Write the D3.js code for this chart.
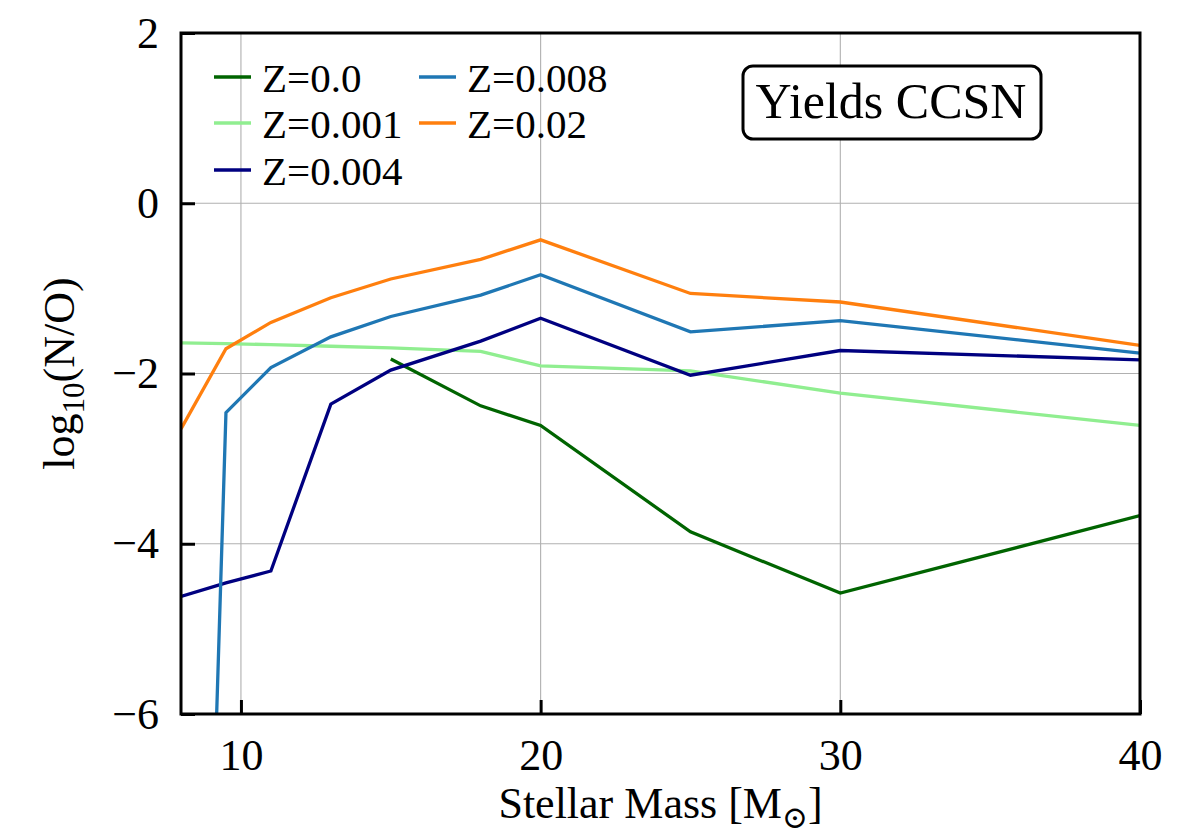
<!DOCTYPE html>
<html>
<head>
<meta charset="utf-8">
<script src="https://cdn.jsdelivr.net/npm/d3@7"></script>
<style>
  html, body { margin: 0; padding: 0; background: #fff; }
  svg text { font-family: "Liberation Serif", "DejaVu Serif", serif; fill: #000; }
</style>
</head>
<body>
<div id="chart"></div>
<script>
// N/O yields of core-collapse supernovae vs stellar mass, one series per metallicity
const masses = [8, 9.5, 11, 13, 15, 18, 20, 25, 30, 40];
const massesZ0 = [15, 18, 20, 25, 30, 40];

const seriesNames = ['Z=0.0', 'Z=0.001', 'Z=0.004', 'Z=0.008', 'Z=0.02'];
const seriesColors = ['#006400', '#90ee90', '#000080', '#1f77b4', '#ff7f0e'];

const logNO_Z0 = [-1.83, -2.38, -2.61, -3.86, -4.58, -3.67];
const logNO_Z001 = [-1.64, -1.65, -1.66, -1.68, -1.70, -1.74, -1.91, -1.97, -2.23, -2.61];
const logNO_Z004 = [-4.62, -4.46, -4.32, -2.36, -1.96, -1.62, -1.35, -2.02, -1.73, -1.84];
const logNO_Z008 = [-19.6, -2.46, -1.93, -1.57, -1.33, -1.08, -0.84, -1.51, -1.38, -1.76];
const logNO_Z02 = [-2.65, -1.71, -1.40, -1.11, -0.89, -0.66, -0.43, -1.06, -1.16, -1.67];

const xTicks = [10, 20, 30, 40];
const yTicks = [-6, -4, -2, 0, 2];

(function () {
  'use strict';

  const W = 1200, H = 840;
  const box = { left: 181, right: 1140, top: 33, bottom: 714 };

  const svg = d3.select('#chart').append('svg')
    .attr('width', W)
    .attr('height', H);

  const x = d3.scaleLinear().domain([8, 40]).range([box.left, box.right]);
  const y = d3.scaleLinear().domain([-6, 2]).range([box.bottom, box.top]);

  // clip so the steep Z=0.008 drop ends at the frame
  svg.append('defs').append('clipPath').attr('id', 'plot-clip')
    .append('rect')
    .attr('x', box.left).attr('y', box.top)
    .attr('width', box.right - box.left).attr('height', box.bottom - box.top);

  // grid
  const grid = svg.append('g').attr('class', 'grid');
  grid.selectAll('line.gx').data(xTicks).join('line')
    .attr('class', 'gx')
    .attr('x1', d => x(d)).attr('x2', d => x(d))
    .attr('y1', box.top).attr('y2', box.bottom)
    .attr('stroke', '#b0b0b0').attr('stroke-width', 1.1);
  grid.selectAll('line.gy').data(yTicks).join('line')
    .attr('class', 'gy')
    .attr('x1', box.left).attr('x2', box.right)
    .attr('y1', d => y(d)).attr('y2', d => y(d))
    .attr('stroke', '#b0b0b0').attr('stroke-width', 1.1);

  // series
  const series = [
    { xs: massesZ0, ys: logNO_Z0 },
    { xs: masses, ys: logNO_Z001 },
    { xs: masses, ys: logNO_Z004 },
    { xs: masses, ys: logNO_Z008 },
    { xs: masses, ys: logNO_Z02 }
  ].map((s, i) => ({
    name: seriesNames[i],
    color: seriesColors[i],
    points: s.xs.map((m, j) => [m, s.ys[j]])
  }));

  const line = d3.line().x(d => x(d[0])).y(d => y(d[1]));

  svg.append('g').attr('clip-path', 'url(#plot-clip)')
    .selectAll('path.series').data(series).join('path')
    .attr('class', 'series')
    .attr('d', d => line(d.points))
    .attr('fill', 'none')
    .attr('stroke', d => d.color)
    .attr('stroke-width', 3.3)
    .attr('stroke-linejoin', 'miter');

  // axes (ticks pointing inward)
  const tickFont = 44;
  const xAxis = svg.append('g')
    .attr('transform', `translate(0,${box.bottom})`)
    .call(d3.axisBottom(x).tickValues(xTicks).tickSizeInner(-14).tickSizeOuter(0).tickPadding(22));
  const yAxis = svg.append('g')
    .attr('transform', `translate(${box.left},0)`)
    .call(d3.axisLeft(y).tickValues(yTicks).tickSizeInner(-14).tickSizeOuter(0).tickPadding(22)
      .tickFormat(d => d < 0 ? '\u2212' + Math.abs(d) : String(d)));

  [xAxis, yAxis].forEach(a => {
    a.select('.domain').remove();
    a.selectAll('.tick line').attr('stroke', '#000').attr('stroke-width', 3);
    a.selectAll('.tick text')
      .style('font-family', '"Liberation Serif", serif')
      .style('font-size', tickFont + 'px')
      .attr('fill', '#000');
  });
  xAxis.selectAll('.tick text').attr('dy', '0.95em').attr('y', 14);

  // frame
  svg.append('rect')
    .attr('x', box.left).attr('y', box.top)
    .attr('width', box.right - box.left).attr('height', box.bottom - box.top)
    .attr('fill', 'none').attr('stroke', '#000').attr('stroke-width', 3);

  // axis labels
  const xl = svg.append('text')
    .attr('x', (box.left + box.right) / 2)
    .attr('y', 818)
    .attr('text-anchor', 'middle')
    .style('font-size', '44px');
  xl.append('tspan').text('Stellar Mass [M');
  xl.append('tspan').attr('dy', 10).style('font-size', '31px').text('\u2299');
  xl.append('tspan').attr('dy', -10).text(']');

  const yl = svg.append('text')
    .attr('transform', `translate(74,${(box.top + box.bottom) / 2}) rotate(-90)`)
    .attr('text-anchor', 'middle')
    .style('font-size', '44px');
  yl.append('tspan').text('log');
  yl.append('tspan').attr('dy', 10).style('font-size', '31px').text('10');
  yl.append('tspan').attr('dy', -10).text('(N/O)');

  // legend, two columns, no frame
  const legendCols = [214, 419];
  const legendRows = [77, 123, 170];
  const legend = svg.append('g').attr('class', 'legend');
  series.forEach((s, i) => {
    const col = i < 3 ? 0 : 1;
    const row = i < 3 ? i : i - 3;
    const lx = legendCols[col], ly = legendRows[row];
    legend.append('line')
      .attr('x1', lx).attr('x2', lx + 37)
      .attr('y1', ly).attr('y2', ly)
      .attr('stroke', s.color).attr('stroke-width', 3.3);
    legend.append('text')
      .attr('x', lx + 48).attr('y', ly + 15)
      .style('font-size', '41px')
      .text(s.name);
  });

  // annotation box
  const ann = svg.append('g');
  ann.append('rect')
    .attr('x', 743).attr('y', 66)
    .attr('width', 298).attr('height', 73)
    .attr('rx', 10).attr('ry', 10)
    .attr('fill', '#fff').attr('stroke', '#000').attr('stroke-width', 3);
  ann.append('text')
    .attr('x', 891).attr('y', 118)
    .attr('text-anchor', 'middle')
    .style('font-size', '50px')
    .text('Yields CCSN');
})();
</script>
</body>
</html>
